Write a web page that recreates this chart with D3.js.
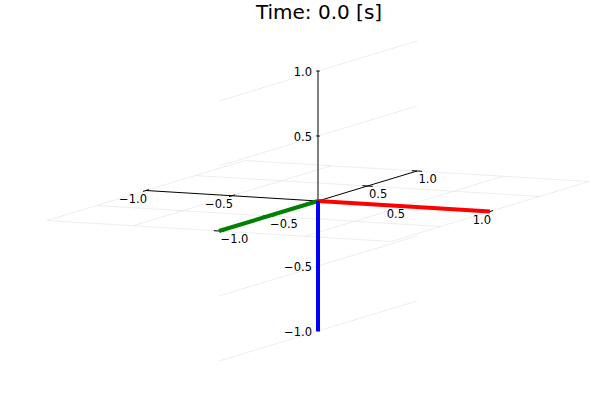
<!DOCTYPE html>
<html>
<head>
<meta charset="utf-8">
<script src="https://cdn.jsdelivr.net/npm/d3@7"></script>
<style>
  html, body { margin: 0; padding: 0; background: #fff; }
  svg { display: block; font-family: "DejaVu Sans", sans-serif; }
</style>
</head>
<body>
<svg id="chart" width="600" height="400"></svg>
<script>
// ---- data ----
const title = "Time: 0.0 [s]";
const xTicks = [-1.0, -0.5, 0.5, 1.0];
const yTicks = [-1.0, -0.5, 0.5, 1.0];
const zTicks = [-1.0, -0.5, 0.5, 1.0];
const axisDomain = [-1, 1];
// line series: [start, end] as [x, y, z]
const seriesNames = ["x", "y", "z"];
const seriesColors = ["#ff0000", "#008000", "#0000ff"];
const seriesX = [[0, 1], [0, 0], [0, 0]];
const seriesY = [[0, 0], [0, -1], [0, 0]];
const seriesZ = [[0, 0], [0, 0], [0, -1]];

// ---- projection via scales ----
const ox = 318, oy = 201;
const xToSx = d3.scaleLinear().domain(axisDomain).range([-172, 172]);
const xToSy = d3.scaleLinear().domain(axisDomain).range([-10.5, 10.5]);
const yToSx = d3.scaleLinear().domain(axisDomain).range([-99, 99]);
const yToSy = d3.scaleLinear().domain(axisDomain).range([30, -30]);
const zToSy = d3.scaleLinear().domain(axisDomain).range([130, -130]);
function proj(x, y, z) {
  return [ox + xToSx(x) + yToSx(y), oy + xToSy(x) + yToSy(y) + zToSy(z)];
}
const line = d3.line();

const svg = d3.select("#chart");

// title
svg.append("text").attr("x", 319).attr("y", 18.5)
  .attr("text-anchor", "middle").attr("font-size", 20).attr("fill", "#000")
  .text(title);

const gridColor = "#e8e8e8";
const grid = svg.append("g").attr("stroke", gridColor).attr("stroke-width", 0.8).attr("fill", "none");
// floor grid (z=0)
xTicks.forEach(x => grid.append("path").attr("d", line([proj(x, -1, 0), proj(x, 1, 0)])));
yTicks.forEach(y => grid.append("path").attr("d", line([proj(-1, y, 0), proj(1, y, 0)])));
// vertical plane grid (x=0)
zTicks.forEach(z => grid.append("path").attr("d", line([proj(0, -1, z), proj(0, 1, z)])));

// axes
const ax = svg.append("g").attr("stroke", "#000").attr("stroke-width", 1).attr("fill", "none");
ax.append("path").attr("d", line([proj(-1, 0, 0), proj(1, 0, 0)]));
ax.append("path").attr("d", line([proj(0, -1, 0), proj(0, 1, 0)]));
ax.append("path").attr("d", line([proj(0, 0, -1), proj(0, 0, 1)]));

// tick marks
const tl = 0.03;
xTicks.forEach(x => ax.append("path").attr("d", line([proj(x, -tl, 0), proj(x, tl, 0)])));
yTicks.forEach(y => ax.append("path").attr("d", line([proj(-tl, y, 0), proj(tl, y, 0)])));
zTicks.forEach(z => ax.append("path").attr("d", line([proj(-0.01, 0, z), proj(0.01, 0, z)])));

const fmt = v => (v < 0 ? "\u2212" : "") + Math.abs(v).toFixed(1);
const labels = svg.append("g").attr("font-size", 11.5).attr("fill", "#000");
xTicks.forEach(x => {
  const p = proj(x, 0, 0);
  labels.append("text").attr("x", p[0] + 1).attr("y", p[1] + 8)
    .attr("text-anchor", "end").attr("dominant-baseline", "central").text(fmt(x));
});
yTicks.forEach(y => {
  const p = proj(0, y, 0);
  labels.append("text").attr("x", p[0] + 1.5).attr("y", p[1] + 7.5)
    .attr("text-anchor", "start").attr("dominant-baseline", "central").text(fmt(y));
});
zTicks.forEach(z => {
  const p = proj(0, 0, z);
  labels.append("text").attr("x", p[0] - 6).attr("y", p[1] + 0.5)
    .attr("text-anchor", "end").attr("dominant-baseline", "central").text(fmt(z));
});

// series lines
seriesNames.forEach((n, i) => {
  const pts = seriesX[i].map((x, k) => proj(x, seriesY[i][k], seriesZ[i][k]));
  svg.append("path").attr("d", line(pts)).attr("stroke", seriesColors[i])
    .attr("stroke-width", 4).attr("fill", "none");
});
</script>
</body>
</html>
